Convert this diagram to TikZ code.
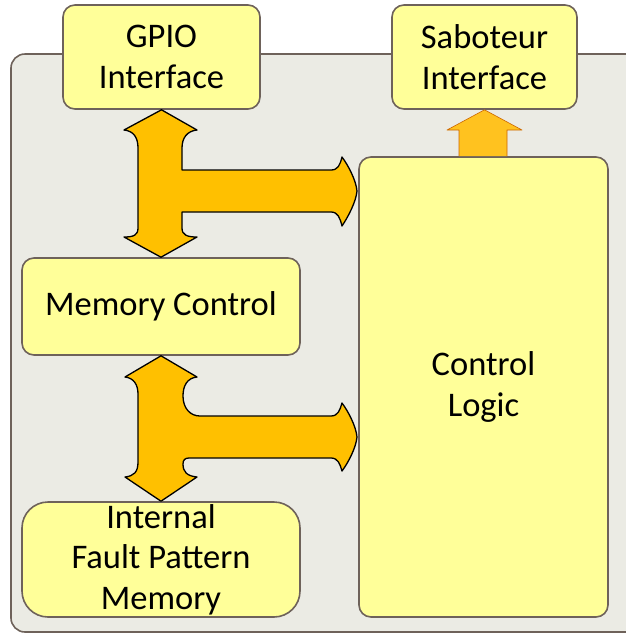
\documentclass[tikz,border=0pt]{standalone}
\usepackage{fontspec}
\setmainfont{Carlito}
\usepackage{tikz}
\usetikzlibrary{positioning,calc}
\definecolor{boxfill}{HTML}{FFFF99}
\definecolor{boxline}{HTML}{6E625A}
\definecolor{chipgray}{HTML}{EBEBE4}
\definecolor{busorange}{HTML}{FFC000}
\definecolor{outorange}{HTML}{FFC21F}

\begin{document}
\begin{tikzpicture}[
    x=1pt, y=-1pt,
    box/.style={draw=boxline, line width=1.6pt, fill=boxfill, rounded corners=12pt, align=center, inner sep=0pt, font=\fontsize{34.5}{40.5}\selectfont},
    bus/.style={draw=black, line width=1.3pt, fill=busorange, line join=round}
  ]
  \useasboundingbox (0,0) rectangle (626,633);
  % chip outline
  \draw[draw=boxline, line width=1.6pt, fill=chipgray, rounded corners=14pt] (11,54) rectangle (660,632);

  \node[box, minimum width=197pt, minimum height=104pt] (gpio) at (161.5,57) {GPIO\\Interface};
  \node[box, minimum width=185pt, minimum height=104pt] (sab) at (484.5,57) {Saboteur\\Interface};
  \node[box, minimum width=278pt, minimum height=97pt] (mem) at (161,306.5) {Memory Control};
  \node[box, rounded corners=26pt, minimum width=278pt, minimum height=115pt] (fpm) at (161,559.5) {Internal\\Fault Pattern\\Memory};
  \node[box, minimum width=249pt, minimum height=460pt] (ctrl) at (483.5,387) {Control\\Logic};

  % GPIO <-> memory control bus, branch to control logic
  \draw[bus] (gpio.south) -- (124,130)
    .. controls (134,131) and (138,138) .. (138,148) -- (138,228)
    .. controls (138,235) and (134,237) .. (124,237)
    -- (mem.north) -- (197,237)
    .. controls (187,237) and (182,235) .. (182,228) -- (182,212) -- (331,212)
    .. controls (338,212) and (340,218) .. (342,226)
    .. controls (348,217) and (356,202) .. (357,191)
    .. controls (356,180) and (348,165) .. (342,157)
    .. controls (340,165) and (338,170) .. (331,170) -- (182,170) -- (182,148)
    .. controls (182,138) and (187,131) .. (197,130) -- cycle;

  % memory control <-> fault pattern memory bus, branch to control logic
  \draw[bus] (mem.south) -- (125,377)
    .. controls (134,378) and (138,385) .. (138,394) -- (138,462)
    .. controls (138,472) and (134,476) .. (125,477)
    -- (fpm.north) -- (197,477)
    .. controls (187,476) and (183,472) .. (183,464)
    .. controls (183,460) and (185,458) .. (189,458) -- (331,458)
    .. controls (338,458) and (340,464) .. (342,471)
    .. controls (348,463) and (356,448) .. (357,437)
    .. controls (356,426) and (348,411) .. (342,403)
    .. controls (340,410) and (338,416) .. (331,416) -- (200,416)
    .. controls (190,416) and (183,408) .. (183,396)
    .. controls (183,386) and (187,378) .. (197,377) -- cycle;

  % control logic -> saboteur
  \draw[draw=orange!80!black, line width=0.6pt, fill=outorange, line join=round]
    (ctrl.north -| 459,0) -- (459,130) -- (447,130) -- (sab.south) -- (522,130) -- (507,130) -- (ctrl.north -| 507,0);
\end{tikzpicture}
\end{document}
